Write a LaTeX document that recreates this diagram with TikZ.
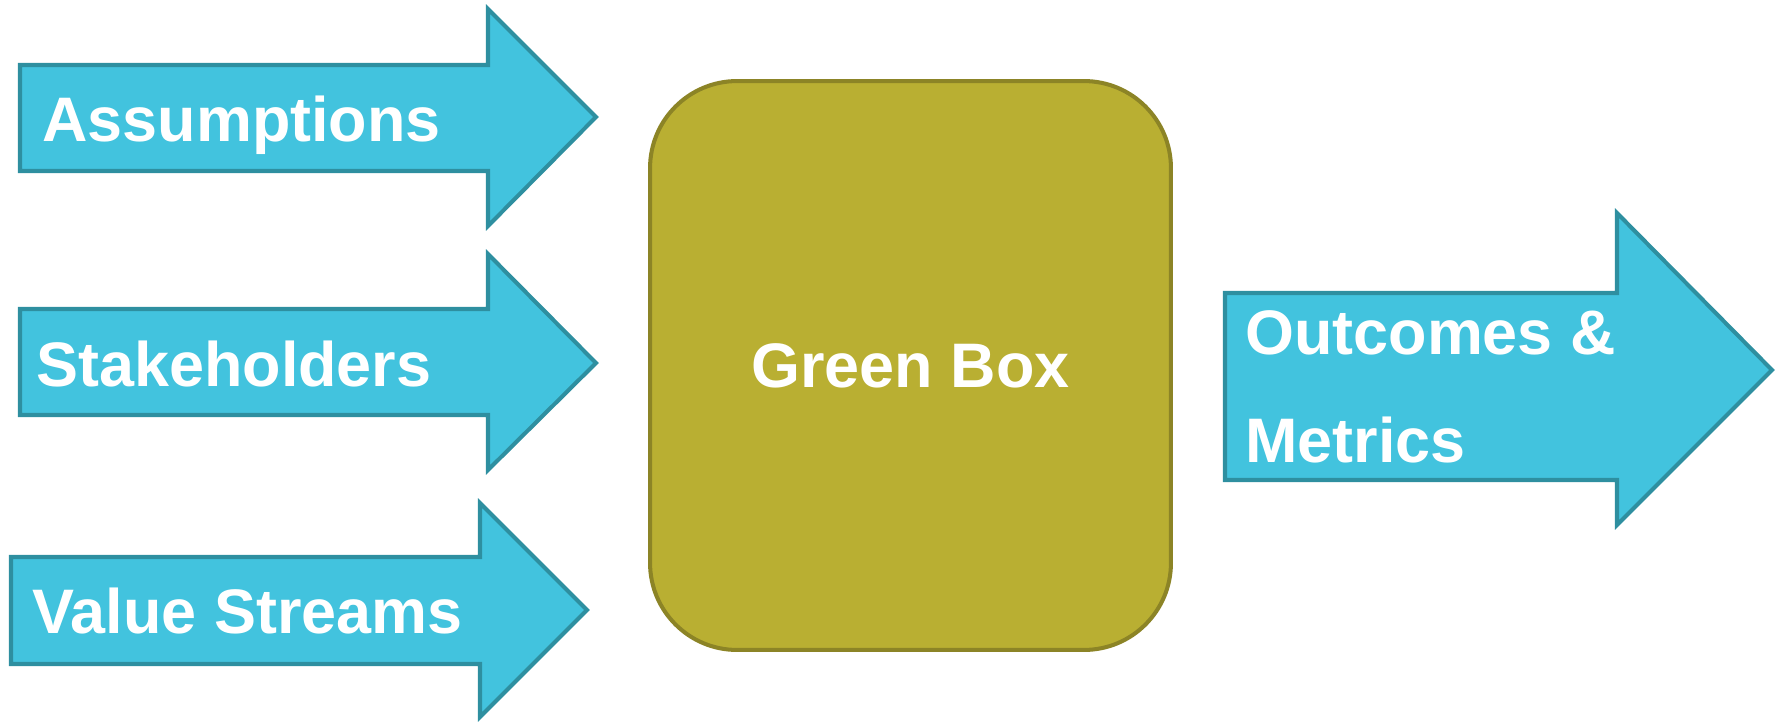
\documentclass[tikz,border=0pt]{standalone}
\usepackage{fontspec}
\setmainfont{Liberation Sans}
\usetikzlibrary{positioning}
\definecolor{arrowcyan}{RGB}{66,195,222}
\definecolor{arrowedge}{RGB}{46,143,160}
\definecolor{boxolive}{RGB}{185,175,50}
\definecolor{boxedge}{RGB}{140,132,38}

\begin{document}
\begin{tikzpicture}[
  x=0.02cm,y=-0.02cm,
  flowarrow/.style={draw=arrowedge,fill=arrowcyan,line width=2.3pt,line join=miter},
  greenbox/.style={draw=boxedge,fill=boxolive,line width=2.3pt,rounded corners=1.74cm,
                   minimum width=10.42cm,minimum height=11.38cm,
                   text=white,font=\fontsize{35.8pt}{43pt}\selectfont\bfseries},
  label/.style={anchor=base west,inner sep=0pt,text=white,align=left,
                font=\fontsize{35.8pt}{61.2pt}\selectfont\bfseries}
]
\useasboundingbox (0,0) rectangle (1779,721);
% input arrows
\draw[flowarrow] (20,65) -- (488,65) -- (488,9) -- (596,117) -- (488,226) -- (488,171) -- (20,171) -- cycle;
\draw[flowarrow] (20,309) -- (488,309) -- (488,254) -- (596,363) -- (488,470) -- (488,415) -- (20,415) -- cycle;
\draw[flowarrow] (11,557) -- (480,557) -- (480,503) -- (587,610) -- (480,717) -- (480,664) -- (11,664) -- cycle;
% output arrow
\draw[flowarrow] (1225,293) -- (1617,293) -- (1617,213) -- (1772,370) -- (1617,525) -- (1617,480) -- (1225,480) -- cycle;
\node[label] (assume) at (42,141) {Assumptions};
\node[label] (stake) at (36,386) {Stakeholders};
\node[label] (value) at (32,633) {Value Streams};
\node[label] (outcome) at (1245,462) {Outcomes \&\\Metrics};
% the box
\node[greenbox] (box) at (910.5,365.5) {Green Box};
\end{tikzpicture}
\end{document}
